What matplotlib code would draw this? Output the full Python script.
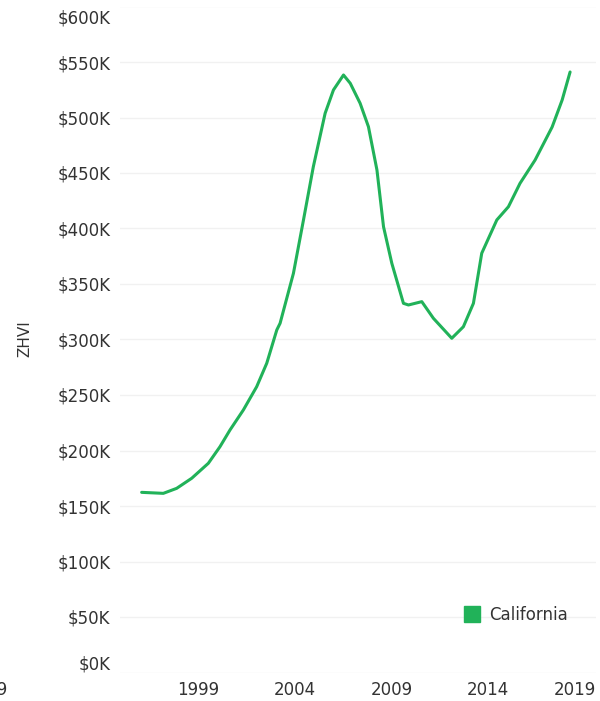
import matplotlib
matplotlib.use('Agg')
import matplotlib.pyplot as plt
from matplotlib.lines import Line2D
from matplotlib.transforms import ScaledTranslation

# California ZHVI, in thousands of dollars
years = [1996.07, 1997.19, 1997.88, 1998.66, 1999.52, 2000.12, 2000.64, 2001.33,
         2002.02, 2002.54, 2003.06, 2003.23, 2003.92, 2004.44, 2004.95, 2005.56,
         2005.99, 2006.51, 2006.86, 2007.37, 2007.80, 2008.24, 2008.58, 2009.01,
         2009.61, 2009.87, 2010.56, 2011.16, 2012.11, 2012.71, 2013.23, 2013.66,
         2014.44, 2015.04, 2015.64, 2016.42, 2017.30, 2017.82, 2018.23]
zhvi = [162.3, 161.4, 165.9, 175.0, 188.5, 203.4, 218.5, 236.5,
        257.5, 278.6, 308.6, 314.6, 359.6, 407.7, 455.7, 503.8,
        524.8, 538.3, 530.8, 512.8, 491.7, 452.7, 401.6, 368.6,
        332.6, 331.1, 334.1, 319.1, 301.1, 311.5, 332.6, 377.7,
        407.7, 419.6, 440.7, 461.7, 491.4, 515.8, 541.0]

year_ticks = [1999, 2004, 2009, 2014, 2019]
value_ticks = [0, 50, 100, 150, 200, 250, 300, 350, 400, 450, 500, 550, 600]

green = '#21b259'
text_color = '#333333'

plt.rcParams['font.family'] = ['DejaVu Sans']

W, H = 600, 701
fig = plt.figure(figsize=(W / 100, H / 100), dpi=100)
ax = fig.add_axes([120 / W, (H - 672.5) / H, (596 - 120) / W, (672.5 - 6.5) / H])

ax.plot(years, zhvi, color=green, lw=2.2, solid_joinstyle='round', solid_capstyle='round')

ax.set_xlim(1994.95, 2019.57)
ax.set_ylim(0, 600)
ax.set_xticks(year_ticks)
ax.set_xticklabels([str(y) for y in year_ticks])
ax.set_yticks(value_ticks)
ax.set_yticklabels([f'${v}K' for v in value_ticks])

ax.tick_params(axis='both', length=0, labelsize=12, labelcolor=text_color)
ax.tick_params(axis='y', pad=7)
ax.tick_params(axis='x', pad=6)
ax.grid(axis='y', color='#f1f1f1', lw=1)
ax.set_axisbelow(True)
for s in ax.spines.values():
    s.set_visible(False)

# keep the outermost labels inside the canvas
ylabels = ax.get_yticklabels()
ylabels[0].set_transform(ylabels[0].get_transform() + ScaledTranslation(0, 9.5 / 100, fig.dpi_scale_trans))
ylabels[-1].set_transform(ylabels[-1].get_transform() + ScaledTranslation(0, -10.5 / 100, fig.dpi_scale_trans))
xlabels = ax.get_xticklabels()
xlabels[-1].set_transform(xlabels[-1].get_transform() + ScaledTranslation(-10 / 100, 0, fig.dpi_scale_trans))

fig.text(25 / W, 1 - 338.5 / H, 'ZHVI', rotation=90, ha='center', va='center',
         fontsize=11, color=text_color)

# neighbouring panel's last year label, clipped at the edge
fig.text(8 / W, 1 - 690 / H, '2019', ha='right', va='center', fontsize=12, color=text_color)

handle = Line2D([], [], marker='s', ms=11, color=green, linestyle='None')
ax.legend([handle], ['California'], loc='center left',
          bbox_to_anchor=(463.7 / W, 1 - 615 / H), bbox_transform=fig.transFigure,
          frameon=False, fontsize=12, handlelength=1.0, handletextpad=0.5,
          borderpad=0, borderaxespad=0, labelcolor=text_color)

fig.savefig('out.png', dpi=100)
